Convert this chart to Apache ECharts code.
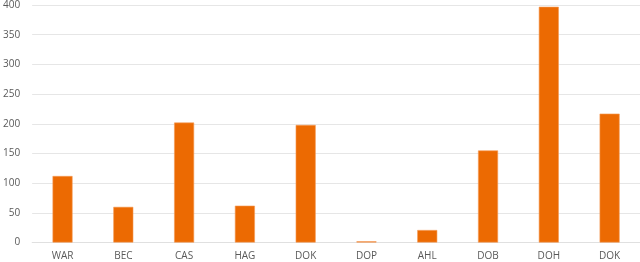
<!DOCTYPE html>
<html><head><meta charset="utf-8">
<script src="https://cdn.jsdelivr.net/npm/echarts@6/dist/echarts.min.js"></script>
<style>html,body{margin:0;padding:0;background:#fff}#c{width:640px;height:262px}</style>
</head><body><div id="c"></div>
<script>
const categories = ["WAR","BEC","CAS","HAG","DOK","DOP","AHL","DOB","DOH","DOK "];
const values = [112, 60, 202, 62, 198, 2, 21, 155, 397, 217];
const yTicks = [0, 50, 100, 150, 200, 250, 300, 350, 400];

const chart = echarts.init(document.getElementById('c'), null, {renderer: 'canvas'});
chart.setOption({
  animation: false,
  grid: {left: 29, right: -9, top: 3.5, bottom: 19.5, containLabel: false},
  xAxis: {
    type: 'category', data: categories,
    axisLine: {show: true, lineStyle: {color: '#e0e0e0'}},
    axisTick: {show: false},
    axisLabel: {color: '#595959', fontFamily: 'Open Sans', fontSize: 10, margin: 9,
      formatter: v => v.trim()}
  },
  yAxis: {
    type: 'value', min: yTicks[0], max: yTicks[yTicks.length-1], interval: 50,
    axisLine: {show: false}, axisTick: {show: false},
    splitLine: {lineStyle: {color: '#e6e6e6', width: 1}},
    axisLabel: {color: '#595959', fontFamily: 'Open Sans', fontSize: 10, margin: 12}
  },
  series: [{
    type: 'bar', data: values, barWidth: 20,
    itemStyle: {color: '#EC6A02', borderColor: '#F59A55', borderWidth: 0.6}
  }]
});
</script></body></html>
